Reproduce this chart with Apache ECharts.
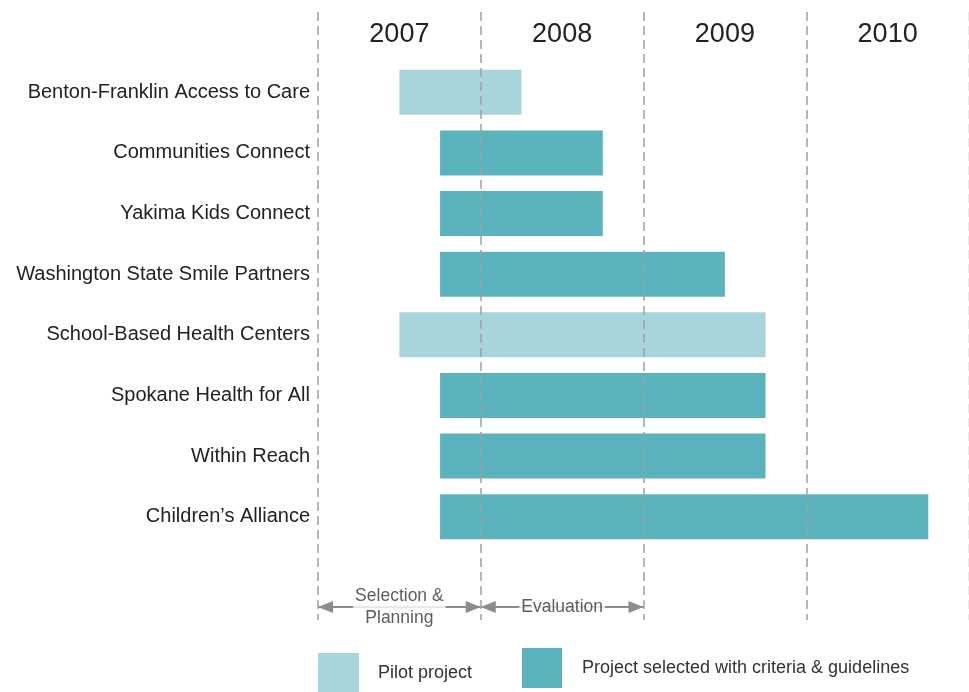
<!DOCTYPE html>
<html><head><meta charset="utf-8">
<script src="https://cdn.jsdelivr.net/npm/echarts@6/dist/echarts.min.js"></script>
<style>html,body{margin:0;padding:0;background:#fff}#c{width:969px;height:692px}</style>
</head><body><div id="c"></div>
<script>
const years = ['2007', '2008', '2009', '2010'];
const projects = ['Benton-Franklin Access to Care', 'Communities Connect', 'Yakima Kids Connect', 'Washington State Smile Partners', 'School-Based Health Centers', 'Spokane Health for All', 'Within Reach', 'Children\u2019s Alliance'];
const startYear = [2007.5, 2007.75, 2007.75, 2007.75, 2007.5, 2007.75, 2007.75, 2007.75];
const endYear = [2008.25, 2008.75, 2008.75, 2009.5, 2009.75, 2009.75, 2009.75, 2010.75];
const isPilot = [true, false, false, false, true, false, false, false];
const phaseNames = ['Selection &\nPlanning', 'Evaluation'];
const phaseStart = [2007, 2008];
const phaseEnd = [2008, 2009];
const legendNames = ['Pilot project', 'Project selected with criteria & guidelines'];

const FONT = "'Liberation Sans', Arial, sans-serif";
const PILOT = '#a8d5dc', MAIN = '#5bb4bd';
const chart = echarts.init(document.getElementById('c'));
const dashColor = '#a0a0a0';
// arrowhead whose tip sits at the centre of a square symbol box
const ARROW = 'path://M0,15 L6,30 L-6,30 Z M-15,0 L15,0';

chart.setOption({
  animation: false,
  backgroundColor: '#fff',
  textStyle: { fontFamily: FONT },
  grid: [
    { left: 318, top: 62, width: 651, height: 485 },
    { left: 318, top: 12, width: 651, height: 608 },
    { left: 318, top: 590, width: 651, height: 34 }
  ],
  xAxis: [
    { gridIndex: 0, type: 'value', min: 2007, max: 2011, interval: 1, show: false },
    { gridIndex: 0, type: 'category', data: years, position: 'top', boundaryGap: true,
      axisLine: { show: false }, axisTick: { show: false }, splitLine: { show: false },
      axisLabel: { fontSize: 27, color: '#222', margin: 14, fontFamily: FONT } },
    { gridIndex: 1, type: 'value', min: 2007, max: 2011, interval: 1, z: 10,
      axisLine: { show: false }, axisTick: { show: false }, axisLabel: { show: false },
      splitLine: { show: true, lineStyle: { color: [dashColor, dashColor, dashColor, dashColor, '#e4e4e4'], width: 1.5, type: [9, 5] } } },
    { gridIndex: 2, type: 'value', min: 2007, max: 2011, show: false }
  ],
  yAxis: [
    { gridIndex: 0, type: 'category', data: projects, inverse: true,
      axisLine: { show: false }, axisTick: { show: false },
      axisLabel: { fontSize: 20, color: '#222', margin: 8, fontFamily: FONT } },
    { gridIndex: 1, type: 'value', min: 0, max: 1, show: false },
    { gridIndex: 2, type: 'value', min: 0, max: 1, show: false }
  ],
  legend: [
    { left: 318, top: 653, padding: 0, data: [legendNames[0]], icon: 'rect', itemWidth: 41, itemHeight: 40, selectedMode: false,
      textStyle: { fontSize: 18, color: '#333', padding: [0, 0, 0, 14], fontFamily: FONT } },
    { left: 522, top: 648, padding: 0, data: [legendNames[1]], icon: 'rect', itemWidth: 40, itemHeight: 40, selectedMode: false,
      textStyle: { fontSize: 18, color: '#333', padding: [0, 0, 0, 15], fontFamily: FONT } }
  ],
  series: [
    { type: 'bar', name: 'base', stack: 'g', xAxisIndex: 0, yAxisIndex: 0, barWidth: 45, silent: true,
      itemStyle: { color: 'rgba(0,0,0,0)' }, data: startYear },
    { type: 'bar', name: legendNames[0], stack: 'g', xAxisIndex: 0, yAxisIndex: 0, barWidth: 45,
      itemStyle: { color: PILOT }, data: startYear.map((s, i) => isPilot[i] ? endYear[i] - s : 0) },
    { type: 'bar', name: legendNames[1], stack: 'g', xAxisIndex: 0, yAxisIndex: 0, barWidth: 45,
      itemStyle: { color: MAIN }, data: startYear.map((s, i) => !isPilot[i] ? endYear[i] - s : 0) },
    { type: 'lines', coordinateSystem: 'cartesian2d', xAxisIndex: 3, yAxisIndex: 2, z: 3,
      symbol: [ARROW, ARROW], symbolSize: 30,
      lineStyle: { color: '#8c8c8c', width: 2, opacity: 1 },
      data: phaseStart.map((s, i) => ({ coords: [[s, 0.5], [phaseEnd[i], 0.5]] })) },
    { type: 'scatter', xAxisIndex: 3, yAxisIndex: 2, symbolSize: 0, z: 4, silent: true,
      label: { show: true, position: 'inside', formatter: p => phaseNames[p.dataIndex],
        fontSize: 17.5, color: '#333', lineHeight: 22, backgroundColor: '#fff', padding: [0, 2], fontFamily: FONT },
      data: phaseStart.map((s, i) => [(s + phaseEnd[i]) / 2, 0.5]) }
  ]
});
</script></body></html>
